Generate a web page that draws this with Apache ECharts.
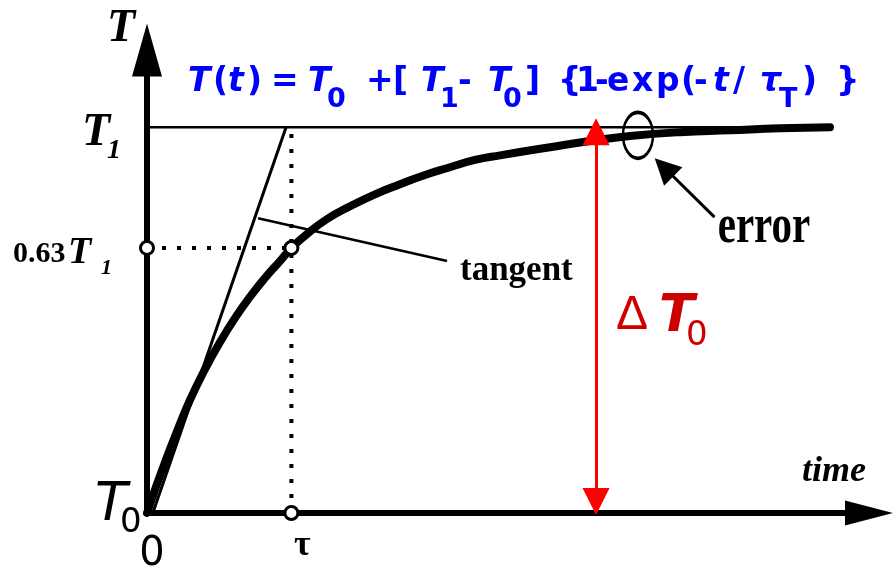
<!DOCTYPE html>
<html lang="en">
<head>
    <meta charset="UTF-8">
    <title>step response</title>
    <script src="https://cdn.jsdelivr.net/npm/echarts@6/dist/echarts.min.js"></script>
    <style>
        html, body { margin: 0; padding: 0; background: #fff; }
    </style>
</head>
<body>
<div id="main" style="width: 893px;height: 568px"></div>

<script>
    // response curve: time in units of tau, temperature as a fraction of T1 - T0
    var curveTime = [0, 0.055, 0.125, 0.208, 0.298, 0.402, 0.506, 0.609, 0.713, 0.817, 0.921, 1.0,
        1.108, 1.247, 1.406, 1.579, 1.752, 1.925, 2.098, 2.271, 2.445, 2.791, 3.068, 3.345,
        3.691, 4.037, 4.384, 4.73];
    var curveTemp = [0, 0.060, 0.132, 0.212, 0.293, 0.373, 0.443, 0.505, 0.560, 0.609, 0.653, 0.687,
        0.723, 0.762, 0.795, 0.826, 0.852, 0.876, 0.896, 0.915, 0.927, 0.948, 0.964, 0.977,
        0.987, 0.992, 0.997, 1.0];

    var tau = 1;
    var levelT1 = 1;
    var level63 = 0.687;          // where the "0.63 T1" guide is drawn
    var plateauEnd = 4.73;        // the T1 line stops here
    var tangentLine = [[0.04, 0], [0.963, 1]];
    var tangentLeader = [[0.769, 0.764], [2.078, 0.653]];
    var deltaX = 3.11;
    var deltaTop = 0.988;
    var deltaBottom = 0.03;
    var errorSpot = [3.40, 0.979];
    var errorArrow = [[3.93, 0.767], [3.58, 0.896]];

    var xMax = 5;
    var yMax = 1.2;

    var BLUE = '#0000ff';
    var SERIF = '"Liberation Serif", "DejaVu Serif", serif';
    var SANS = '"DejaVu Sans", sans-serif';

    function pairs(xs, ys) {
        var out = [];
        for (var i = 0; i < xs.length; i++) {
            out.push([xs[i], ys[i]]);
        }
        return out;
    }

    function plainLine(name, data, width, dash) {
        return {
            name: name,
            type: 'line',
            symbol: 'none',
            clip: false,
            lineStyle: { color: '#000', width: width, type: dash || 'solid' },
            data: data
        };
    }

    function arrowLine(name, coords, color, size) {
        return {
            name: name,
            type: 'lines',
            coordinateSystem: 'cartesian2d',
            symbol: ['none', 'triangle'],
            symbolSize: size,
            z: 6,
            lineStyle: { color: color, width: 3, opacity: 1 },
            data: [{ coords: coords }]
        };
    }

    var myChart = echarts.init(document.getElementById('main'));

    // the double arrow is drawn as two overlapping halves, each with its own head
    var option = {
        backgroundColor: '#fff',
        animation: false,
        grid: {
            left: 147,
            right: 24,
            top: 50,
            bottom: 55,
            outerBoundsMode: 'none'
        },
        xAxis: {
            type: 'value',
            min: 0,
            max: xMax,
            splitLine: { show: false },
            axisTick: { show: false },
            axisLabel: { show: false },
            axisLine: {
                show: true,
                symbol: ['none', 'triangle'],
                symbolSize: [25, 48],
                lineStyle: { color: '#000', width: 6 }
            }
        },
        yAxis: {
            type: 'value',
            min: 0,
            max: yMax,
            splitLine: { show: false },
            axisTick: { show: false },
            axisLabel: { show: false },
            axisLine: {
                show: true,
                symbol: ['none', 'triangle'],
                symbolSize: [30, 53],
                lineStyle: { color: '#000', width: 6 }
            }
        },
        series: [
            plainLine('T1', [[0, levelT1], [plateauEnd, levelT1]], 2.5),
            plainLine('0.63 guide', [[0, level63], [tau, level63]], 4, [4, 11]),
            plainLine('tau guide', [[tau, 0], [tau, levelT1]], 4, [4, 11]),
            plainLine('tangent', tangentLine, 3),
            plainLine('tangent label', tangentLeader, 2.5),
            {
                name: 'T(t)',
                type: 'line',
                symbol: 'none',
                smooth: true,
                clip: false,
                lineStyle: { color: '#000', width: 8, cap: 'round' },
                data: pairs(curveTime, curveTemp)
            },
            {
                name: 'marks',
                type: 'scatter',
                symbol: 'circle',
                symbolSize: 13,
                z: 5,
                itemStyle: { color: '#fff', borderColor: '#000', borderWidth: 3, opacity: 1 },
                data: [[0, level63], [tau, level63], [tau, 0]]
            },
            {
                name: 'error spot',
                type: 'scatter',
                symbol: 'circle',
                symbolSize: [30, 46],
                z: 5,
                itemStyle: { color: 'rgba(0,0,0,0)', borderColor: '#000', borderWidth: 3, opacity: 1 },
                data: [errorSpot]
            },
            arrowLine('delta up', [[deltaX, deltaBottom], [deltaX, deltaTop]], '#ff0000', [15, 27]),
            arrowLine('delta down', [[deltaX, deltaTop], [deltaX, deltaBottom]], '#ff0000', [15, 27]),
            arrowLine('error arrow', errorArrow, '#000', [20, 26])
        ]
    };

    myChart.setOption(option);

    function txt(x, y, text, font, color, align, extra) {
        var el = {
            type: 'text',
            x: x,
            y: y,
            z: 100,
            style: {
                text: text,
                font: font,
                fill: color || '#000',
                align: align || 'left',
                verticalAlign: 'middle'
            }
        };
        if (extra) {
            for (var k in extra) el[k] = extra[k];
        }
        return el;
    }

    // the formula, piece by piece (n = upright, i = italic, s = subscript)
    var formulaParts = [
        ['T', 'i', 188], ['(', 'n', 213], ['t', 'i', 228], [')', 'n', 247], ['=', 'n', 271],
        ['T', 'i', 308], ['0', 's', 327], ['+', 'n', 366], ['[', 'n', 393],
        ['T', 'i', 421], ['1', 's', 440], ['-', 'n', 458], ['T', 'i', 488], ['0', 's', 503],
        [']', 'n', 525], ['{', 'n', 558], ['1', 'n', 576], ['-', 'n', 595], ['e', 'n', 607],
        ['x', 'n', 632], ['p', 'n', 656], ['(', 'n', 681], ['-', 'n', 694], ['t', 'i', 713],
        ['/', 'n', 733], ['\u03c4', 'i', 760], ['T', 's', 779], [')', 'n', 802], ['}', 'n', 836]
    ];

    var pT1 = myChart.convertToPixel({ gridIndex: 0 }, [0, levelT1]);
    var p63 = myChart.convertToPixel({ gridIndex: 0 }, [0, level63]);
    var pTau = myChart.convertToPixel({ gridIndex: 0 }, [tau, 0]);

    var graphic = [];
    for (var i = 0; i < formulaParts.length; i++) {
        var part = formulaParts[i];
        if (part[1] === 's') {
            graphic.push(txt(part[2], 100, part[0], 'bold 27px ' + SANS, BLUE));
        } else if (part[1] === 'i') {
            graphic.push(txt(part[2], 82, part[0], 'italic bold 33px ' + SANS, BLUE));
        } else {
            graphic.push(txt(part[2], 82, part[0], 'bold 33px ' + SANS, BLUE));
        }
    }

    // axis names
    graphic.push(txt(107, 29, 'T', 'italic bold 46px ' + SERIF));
    graphic.push(txt(802, 472, 'time', 'italic bold 36px ' + SERIF));

    // y ticks
    graphic.push(txt(pT1[0] - 65, pT1[1] + 6, 'T', 'italic bold 46px ' + SERIF));
    graphic.push(txt(pT1[0] - 40, pT1[1] + 24, '1', 'italic bold 28px ' + SERIF));
    graphic.push(txt(13, p63[1] + 6, '0.63', 'bold 30px ' + SERIF));
    graphic.push(txt(68, p63[1] + 5, 'T', 'italic bold 38px ' + SERIF));
    graphic.push(txt(101, p63[1] + 20, '1', 'italic bold 22px ' + SERIF));
    graphic.push(txt(95, pTau[1] - 7, 'T', 'italic 53px ' + SANS));
    graphic.push(txt(120, pTau[1] + 10, '0', '34px ' + SANS));

    // x ticks
    graphic.push(txt(152, pTau[1] + 42, '0', '40px ' + SANS, '#000', 'center'));
    graphic.push(txt(pTau[0] + 11, pTau[1] + 33, '\u03c4', 'bold 36px ' + SERIF, '#000', 'center'));

    // notes
    graphic.push(txt(460, 271, 'tangent', 'bold 35px ' + SERIF));
    graphic.push(txt(764, 228, 'error', 'bold 41px ' + SERIF, '#000', 'center', { scaleY: 1.35 }));
    graphic.push(txt(632, 316, '\u0394', '48px "Liberation Sans", sans-serif', '#cc0000', 'center'));
    graphic.push(txt(659, 317, 'T', 'italic bold 52px ' + SANS, '#cc0000'));
    graphic.push(txt(686, 336, '0', '34px ' + SANS, '#cc0000'));

    myChart.setOption({ graphic: graphic });
</script>
</body>
</html>
